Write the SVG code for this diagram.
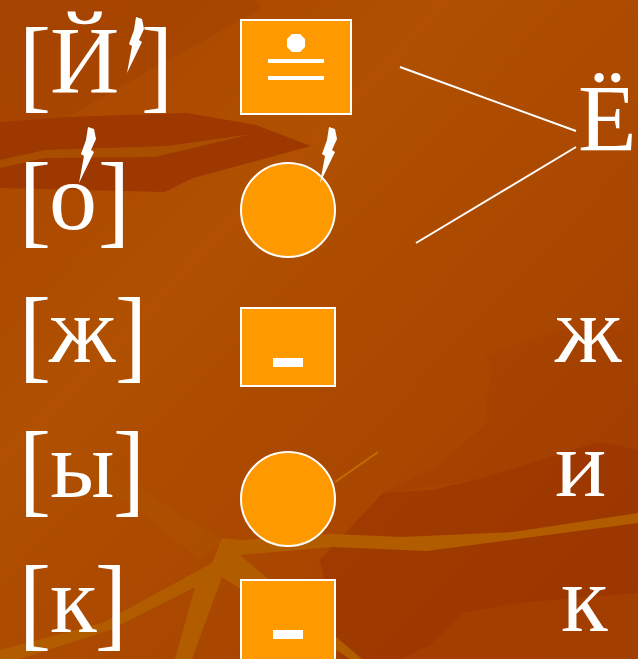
<svg xmlns="http://www.w3.org/2000/svg" xmlns:xlink="http://www.w3.org/1999/xlink" width="638" height="659" viewBox="0 0 638 659">
<defs>
<linearGradient id="bg" x1="0" y1="0" x2="1" y2="1">
<stop offset="0" stop-color="#A84500"/>
<stop offset="0.35" stop-color="#B05000"/>
<stop offset="0.7" stop-color="#A84500"/>
<stop offset="1" stop-color="#9A3300"/>
</linearGradient>
<path id="bolt" d="M10,-56 L16,-54 L18,-44 L13,-33 L16,-31 L1,0 L6,-27 L3,-29 L8,-43 Z" fill="#FFFFFF"/>
<style>
.t{font-family:"Liberation Serif","Times New Roman",serif;font-size:96px;fill:#FFFFFF}
.box{fill:#FF9900;stroke:#FFFFFF;stroke-width:2}
.w{fill:#FFFFFF}
.ln{stroke:#FFFFFF;stroke-width:2;fill:none}
</style>
</defs>
<g id="background">
<rect width="638" height="659" fill="url(#bg)"/>
<polygon points="0,0 255,0 262,8 67,117 0,122" fill="#A44200" opacity="0.6"/>
<polygon points="0,122 67,117 187,113 256,125 311,146 193,178 165,192 0,188" fill="#9C3800"/>
<polygon points="0,160 45,150 167,146 252,134 155,157 45,158 0,168" fill="#A94E00"/>
<polygon points="485,356 492,368 485,410 488,422 437,467 383,493 483,478 598,442 638,450 638,330 560,330" fill="#A34000" opacity="0.5"/>
<polygon points="383,493 432,490 483,478 598,442 638,450 638,659 340,659 320,560" fill="#9C3700" opacity="0.8"/>
<polygon points="430,645 463,613 517,603 638,593 638,659 400,659" fill="#A54200" opacity="0.7"/>
<polygon points="63,440 123,477 173,510 222,540 200,560 150,520 70,465" fill="#AE5200" opacity="0.6"/>
<polygon points="638,513 513,532 401,537 332,534 240,540 222,538 212,563 102,623 0,650 0,659 20,659 110,630 195,587 175,659 192,659 222,577 350,659 362,659 240,555 332,547 427,551 638,523" fill="#B25C00"/>
<line x1="335" y1="482" x2="378" y2="452" stroke="#C06E00" stroke-width="2"/>
</g>
<g id="connectors">
<line class="ln" x1="400" y1="67" x2="576" y2="131"/>
<line class="ln" x1="416" y1="243" x2="576" y2="147"/>
</g>
<g id="row1-label">
<text class="t" transform="matrix(1,0,0,1.09,0,99)"><tspan x="19" y="0">[</tspan><tspan x="141" y="0">]</tspan></text>
<text class="t" x="50" y="93">Й</text>
<use xlink:href="#bolt" x="126" y="73"/>
</g>
<g id="row2-label">
<text class="t" transform="matrix(1,0,0,1.09,0,234)"><tspan x="19" y="0">[</tspan><tspan x="98" y="0">]</tspan></text>
<text class="t" x="49" y="229">о</text>
<use xlink:href="#bolt" x="78" y="183"/>
</g>
<g id="row3-label">
<text class="t" transform="matrix(1,0,0,1.09,0,369)"><tspan x="19" y="0">[</tspan><tspan x="115" y="0">]</tspan></text>
<text class="t" x="49" y="362">ж</text>
</g>
<g id="row4-label">
<text class="t" transform="matrix(1,0,0,1.09,0,503)"><tspan x="19" y="0">[</tspan><tspan x="113" y="0">]</tspan></text>
<text class="t" x="50" y="497">ы</text>
</g>
<g id="row5-label">
<text class="t" transform="matrix(1,0,0,1.09,0,637)"><tspan x="19" y="0">[</tspan><tspan x="95" y="0">]</tspan></text>
<text class="t" x="50" y="632">к</text>
</g>
<g id="sym1">
<rect class="box" x="241" y="20" width="110" height="94"/>
<polygon class="w" points="292,34 300,34 305,39 305,47 300,52 292,52 287,47 287,39"/>
<rect class="w" x="268" y="59" width="56" height="4"/>
<rect class="w" x="268" y="76" width="56" height="4"/>
</g>
<g id="sym2">
<circle class="box" cx="288" cy="210" r="47"/>
<use xlink:href="#bolt" x="319" y="183"/>
</g>
<g id="sym3">
<rect class="box" x="241" y="308" width="94" height="78"/>
<rect class="w" x="273" y="358" width="30" height="9"/>
</g>
<g id="sym4">
<circle class="box" cx="288" cy="499" r="47"/>
</g>
<g id="sym5">
<rect class="box" x="241" y="580" width="94" height="90"/>
<rect class="w" x="273" y="630" width="30" height="9"/>
</g>
<g id="letter-yo"><text class="t" x="578" y="151">Ё</text></g>
<g id="letter-zh"><text class="t" x="555" y="362">ж</text></g>
<g id="letter-i"><text class="t" x="555" y="496">и</text></g>
<g id="letter-k"><text class="t" x="561" y="631">к</text></g>
</svg>
